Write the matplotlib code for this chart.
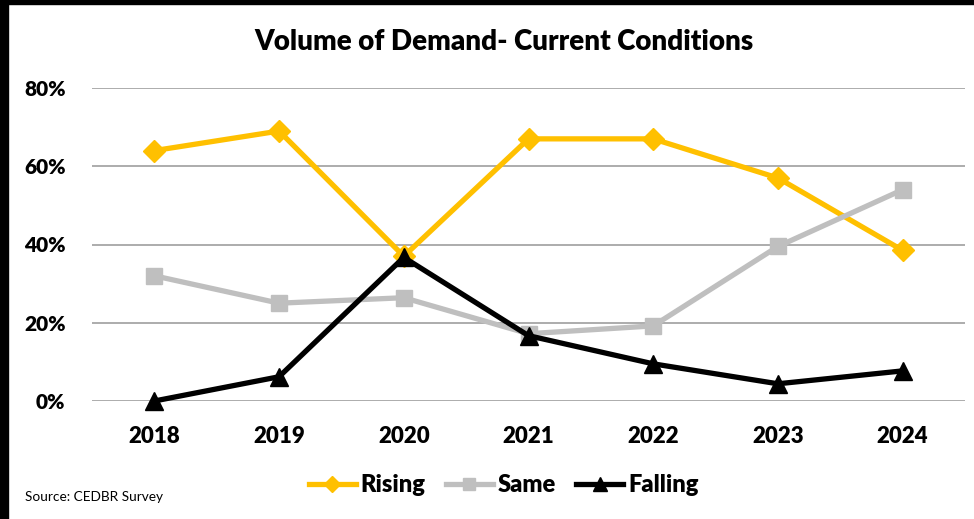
import matplotlib.pyplot as plt
from matplotlib.patches import Rectangle
from matplotlib.ticker import PercentFormatter

years = ['2018', '2019', '2020', '2021', '2022', '2023', '2024']
rising = [64, 69, 37, 67, 67, 57, 38.5]
same = [32, 25, 26.4, 17.2, 19.2, 39.5, 54]
falling = [0, 6.2, 36.7, 16.7, 9.5, 4.4, 7.7]

plt.rcParams['font.family'] = ['Lato', 'DejaVu Sans']

fig = plt.figure(figsize=(9.74, 5.19), dpi=100)
ax = fig.add_axes([92 / 974, 1 - 401 / 519, (965 - 92) / 974, (401 - 88) / 519])

x = range(len(years))
ax.plot(x, rising, color='#FFC000', lw=3.8, marker='D', ms=11, label='Rising', zorder=3, clip_on=False)
ax.plot(x, same, color='#BFBFBF', lw=3.8, marker='s', ms=11, label='Same', zorder=3, clip_on=False)
ax.plot(x, falling, color='black', lw=3.8, marker='^', ms=13, label='Falling', zorder=4, clip_on=False)

ax.set_xlim(-0.5, len(years) - 0.5)
ax.set_ylim(0, 80)
ax.set_yticks([0, 20, 40, 60, 80])
ax.yaxis.set_major_formatter(PercentFormatter(decimals=0))
ax.set_xticks(list(x))
ax.set_xticklabels(years)
ax.grid(axis='y', color='#A6A6A6', lw=1.3)
ax.set_axisbelow(True)
for s in ax.spines.values():
    s.set_visible(False)
ax.tick_params(axis='both', length=0, labelsize=16)
ax.tick_params(axis='y', pad=19, labelsize=15)
ax.tick_params(axis='x', pad=18)
for lbl in ax.get_xticklabels() + ax.get_yticklabels():
    lbl.set_fontweight('heavy')

fig.text(504 / 974, 1 - 42 / 519, 'Volume of Demand- Current Conditions',
         ha='center', va='center', fontsize=20, fontweight='heavy')

fig.legend(loc='center', bbox_to_anchor=(0.517, 1 - 485 / 519), ncol=3, frameon=False,
           handlelength=2.0, handletextpad=0.2, columnspacing=0.85, markerscale=0.75,
           prop={'size': 17, 'weight': 'heavy'})

fig.text(25 / 974, 1 - 497 / 519, 'Source: CEDBR Survey', ha='left', va='center', fontsize=9.8)

# black frame on top and left edges
fig.patches.append(Rectangle((0, 1 - 4 / 519), 1, 4 / 519, transform=fig.transFigure,
                             color='black', zorder=10))
fig.patches.append(Rectangle((0, 0), 8 / 974, 1, transform=fig.transFigure,
                             color='black', zorder=10))

fig.savefig('out.png', dpi=100)
